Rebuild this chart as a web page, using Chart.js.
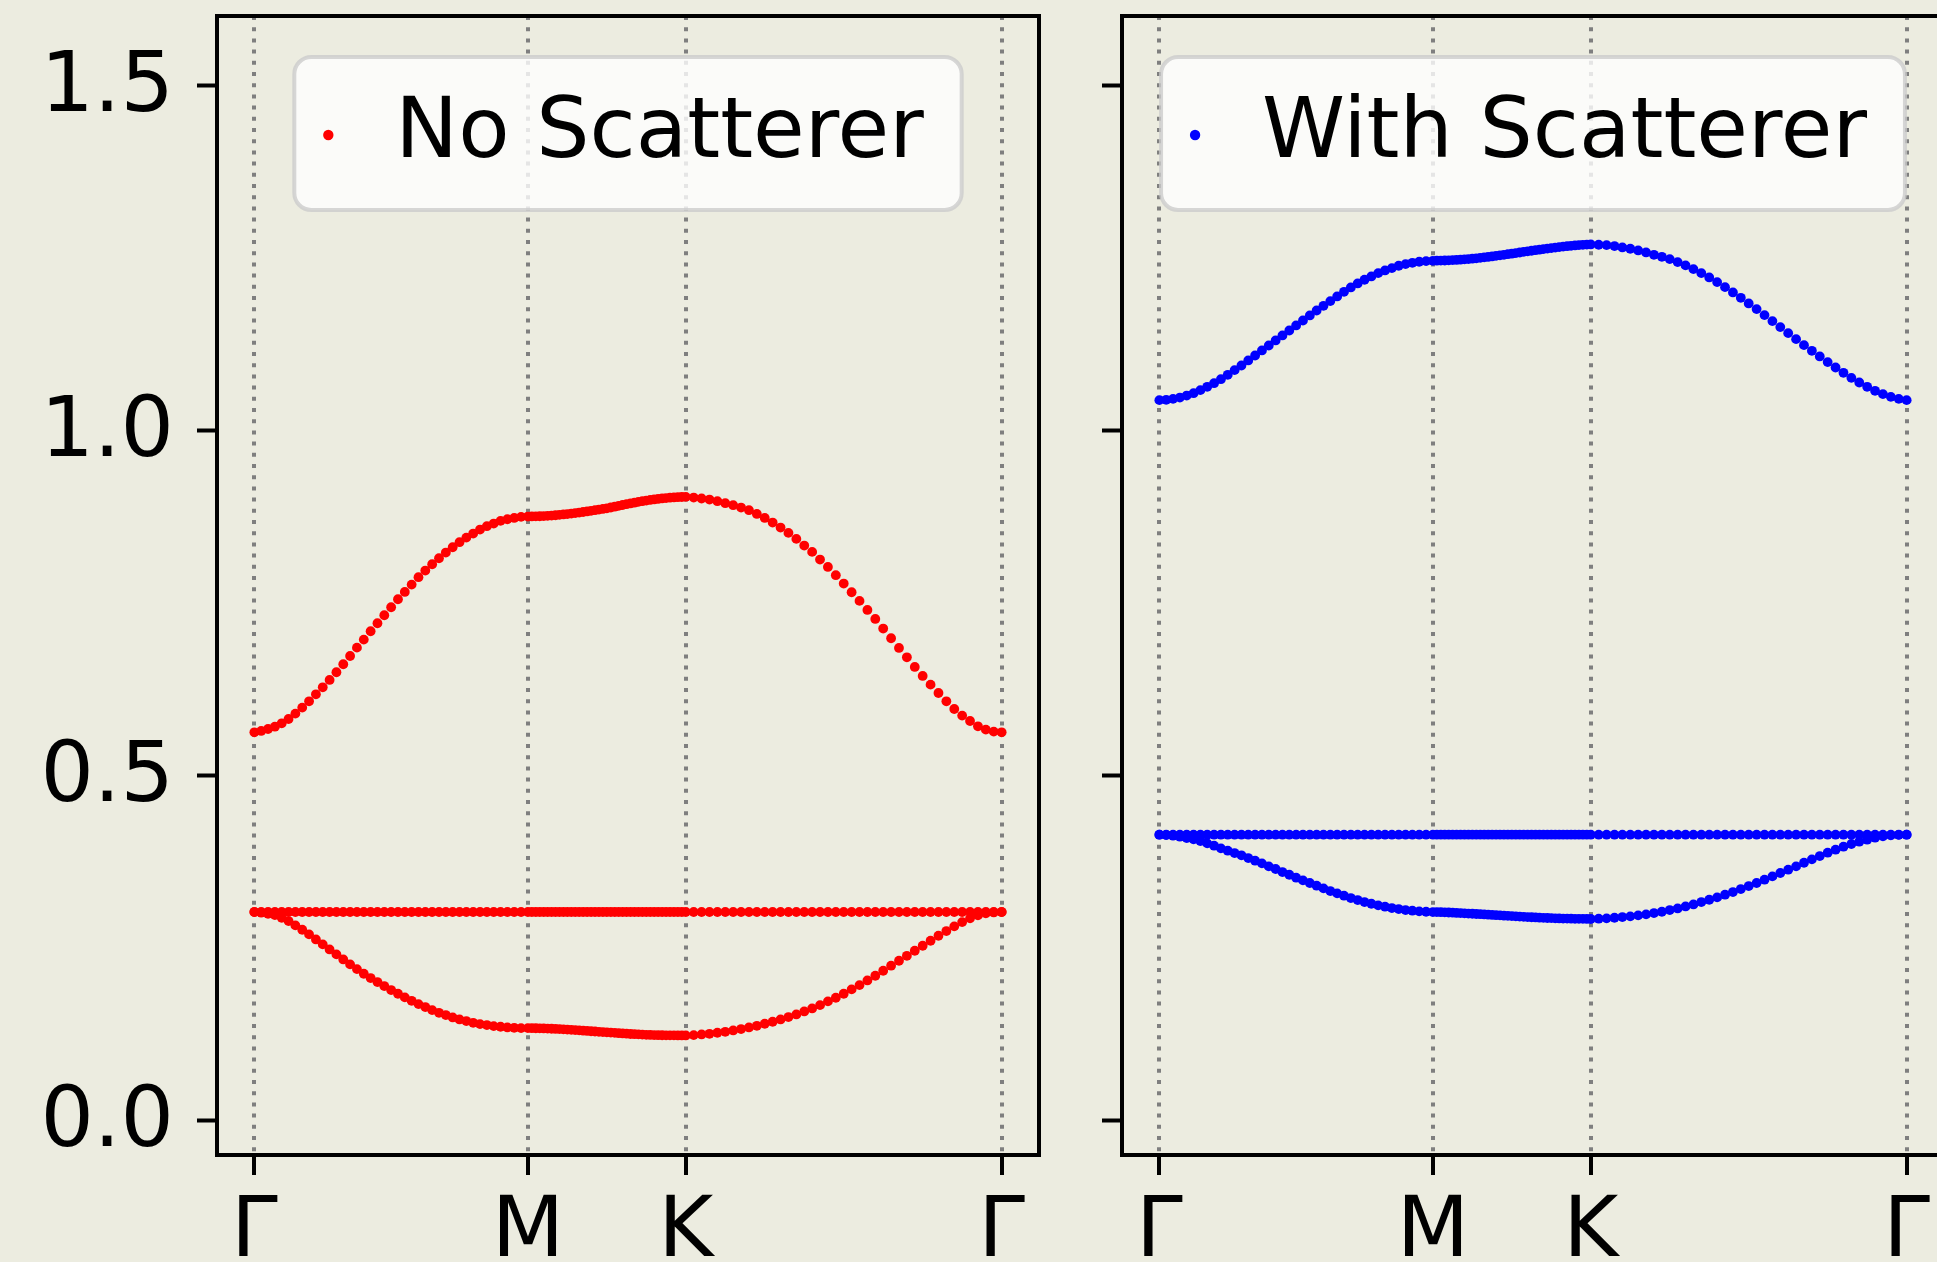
<!DOCTYPE html>
<html>
<head>
<meta charset="utf-8">
<title>Band structure: No Scatterer / With Scatterer</title>
<script src="https://cdn.jsdelivr.net/npm/chart.js@4.4.1/dist/chart.umd.min.js"></script>
<style>
  html, body { margin: 0; padding: 0; background: #ecece0; overflow: hidden; }
  #stage { position: relative; width: 1937px; height: 1262px; overflow: hidden; background: #ecece0; }
  canvas { position: absolute; top: 0; }
  #left { left: 0; }
  #right { left: 1080px; }
</style>
</head>
<body>
<div id="stage">
  <canvas id="left" width="1080" height="1262"></canvas>
  <canvas id="right" width="905" height="1262"></canvas>
</div>
<script>
// High-symmetry points along the path Γ → M → K → Γ (path length, hexagonal lattice units)
const pathNodes = [0, 0.5774, 0.9107, 1.5774];
const nodeLabels = ['Γ', 'M', 'K', 'Γ'];
const samplesPerSegment = 40;

// Frequency axis
const yTicks = [0.0, 0.5, 1.0, 1.5];
const yRange = [-0.05, 1.6];

// ---- No Scatterer (three bands, 121 samples each) ----
const noScatLower = [
  0.3019, 0.3010, 0.2995, 0.2976, 0.2937, 0.2889, 0.2826, 0.2763, 0.2696, 0.2623,
  0.2551, 0.2478, 0.2406, 0.2333, 0.2261, 0.2193, 0.2126, 0.2063, 0.2005, 0.1947,
  0.1889, 0.1836, 0.1783, 0.1734, 0.1686, 0.1643, 0.1599, 0.1560, 0.1527, 0.1493,
  0.1464, 0.1440, 0.1415, 0.1396, 0.1382, 0.1367, 0.1358, 0.1348, 0.1343, 0.1338,
  0.1338,
  0.1337, 0.1336, 0.1335, 0.1333, 0.1331, 0.1329, 0.1326, 0.1323, 0.1320, 0.1317,
  0.1313, 0.1309, 0.1305, 0.1301, 0.1297, 0.1293, 0.1289, 0.1285, 0.1281, 0.1277,
  0.1273, 0.1269, 0.1265, 0.1261, 0.1257, 0.1253, 0.1250, 0.1247, 0.1244, 0.1241,
  0.1239, 0.1237, 0.1236, 0.1235, 0.1234, 0.1233, 0.1233, 0.1232, 0.1232, 0.1232,
  0.1237, 0.1246, 0.1256, 0.1271, 0.1285, 0.1304, 0.1324, 0.1348, 0.1372, 0.1401,
  0.1430, 0.1464, 0.1498, 0.1536, 0.1580, 0.1623, 0.1671, 0.1725, 0.1778, 0.1836,
  0.1899, 0.1961, 0.2029, 0.2097, 0.2169, 0.2242, 0.2314, 0.2386, 0.2459, 0.2531,
  0.2604, 0.2676, 0.2744, 0.2812, 0.2874, 0.2928, 0.2971, 0.3000, 0.3014, 0.3019
];
const noScatFlat = [
  0.302, 0.302, 0.302, 0.302, 0.302, 0.302, 0.302, 0.302, 0.302, 0.302, 0.302,
  0.302, 0.302, 0.302, 0.302, 0.302, 0.302, 0.302, 0.302, 0.302, 0.302, 0.302,
  0.302, 0.302, 0.302, 0.302, 0.302, 0.302, 0.302, 0.302, 0.302, 0.302, 0.302,
  0.302, 0.302, 0.302, 0.302, 0.302, 0.302, 0.302, 0.302, 0.302, 0.302, 0.302,
  0.302, 0.302, 0.302, 0.302, 0.302, 0.302, 0.302, 0.302, 0.302, 0.302, 0.302,
  0.302, 0.302, 0.302, 0.302, 0.302, 0.302, 0.302, 0.302, 0.302, 0.302, 0.302,
  0.302, 0.302, 0.302, 0.302, 0.302, 0.302, 0.302, 0.302, 0.302, 0.302, 0.302,
  0.302, 0.302, 0.302, 0.302, 0.302, 0.302, 0.302, 0.302, 0.302, 0.302, 0.302,
  0.302, 0.302, 0.302, 0.302, 0.302, 0.302, 0.302, 0.302, 0.302, 0.302, 0.302,
  0.302, 0.302, 0.302, 0.302, 0.302, 0.302, 0.302, 0.302, 0.302, 0.302, 0.302,
  0.302, 0.302, 0.302, 0.302, 0.302, 0.302, 0.302, 0.302, 0.302, 0.302, 0.302
];
const noScatUpper = [
  0.5623, 0.5643, 0.5671, 0.5705, 0.5754, 0.5816, 0.5894, 0.5981, 0.6072, 0.6174,
  0.6275, 0.6382, 0.6493, 0.6609, 0.6729, 0.6850, 0.6966, 0.7087, 0.7203, 0.7319,
  0.7435, 0.7551, 0.7657, 0.7763, 0.7870, 0.7966, 0.8058, 0.8145, 0.8227, 0.8304,
  0.8377, 0.8444, 0.8502, 0.8560, 0.8609, 0.8647, 0.8686, 0.8710, 0.8729, 0.8744,
  0.8749,
  0.8750, 0.8751, 0.8753, 0.8756, 0.8759, 0.8763, 0.8768, 0.8773, 0.8779, 0.8785,
  0.8792, 0.8799, 0.8807, 0.8815, 0.8823, 0.8832, 0.8841, 0.8850, 0.8859, 0.8868,
  0.8880, 0.8892, 0.8904, 0.8916, 0.8928, 0.8939, 0.8950, 0.8961, 0.8971, 0.8980,
  0.8989, 0.8997, 0.9004, 0.9011, 0.9017, 0.9022, 0.9026, 0.9029, 0.9032, 0.9034,
  0.9024, 0.9010, 0.8995, 0.8971, 0.8942, 0.8913, 0.8879, 0.8841, 0.8787, 0.8729,
  0.8662, 0.8589, 0.8512, 0.8425, 0.8329, 0.8237, 0.8126, 0.8019, 0.7899, 0.7778,
  0.7652, 0.7527, 0.7396, 0.7266, 0.7126, 0.6986, 0.6845, 0.6710, 0.6570, 0.6440,
  0.6314, 0.6193, 0.6072, 0.5961, 0.5865, 0.5787, 0.5710, 0.5662, 0.5633, 0.5623
];

// ---- With Scatterer (three bands, 121 samples each) ----
const withScatLower = [
  0.4140, 0.4135, 0.4126, 0.4111, 0.4092, 0.4072, 0.4048, 0.4014, 0.3981, 0.3942,
  0.3908, 0.3874, 0.3841, 0.3802, 0.3763, 0.3725, 0.3681, 0.3643, 0.3599, 0.3560,
  0.3517, 0.3478, 0.3440, 0.3401, 0.3362, 0.3324, 0.3290, 0.3256, 0.3222, 0.3193,
  0.3164, 0.3140, 0.3116, 0.3097, 0.3077, 0.3063, 0.3048, 0.3039, 0.3029, 0.3024,
  0.3019,
  0.3018, 0.3017, 0.3015, 0.3013, 0.3010, 0.3007, 0.3004, 0.3001, 0.2998, 0.2995,
  0.2991, 0.2988, 0.2985, 0.2981, 0.2978, 0.2974, 0.2971, 0.2967, 0.2964, 0.2960,
  0.2957, 0.2953, 0.2950, 0.2947, 0.2944, 0.2941, 0.2938, 0.2935, 0.2933, 0.2931,
  0.2929, 0.2927, 0.2925, 0.2924, 0.2923, 0.2922, 0.2921, 0.2921, 0.2920, 0.2919,
  0.2923, 0.2928, 0.2937, 0.2947, 0.2957, 0.2971, 0.2986, 0.3005, 0.3024, 0.3048,
  0.3072, 0.3101, 0.3130, 0.3164, 0.3198, 0.3232, 0.3271, 0.3309, 0.3353, 0.3396,
  0.3440, 0.3488, 0.3536, 0.3585, 0.3633, 0.3681, 0.3734, 0.3783, 0.3831, 0.3879,
  0.3923, 0.3966, 0.4005, 0.4039, 0.4068, 0.4097, 0.4116, 0.4130, 0.4137, 0.4140
];
const withScatFlat = [
  0.414, 0.414, 0.414, 0.414, 0.414, 0.414, 0.414, 0.414, 0.414, 0.414, 0.414,
  0.414, 0.414, 0.414, 0.414, 0.414, 0.414, 0.414, 0.414, 0.414, 0.414, 0.414,
  0.414, 0.414, 0.414, 0.414, 0.414, 0.414, 0.414, 0.414, 0.414, 0.414, 0.414,
  0.414, 0.414, 0.414, 0.414, 0.414, 0.414, 0.414, 0.414, 0.414, 0.414, 0.414,
  0.414, 0.414, 0.414, 0.414, 0.414, 0.414, 0.414, 0.414, 0.414, 0.414, 0.414,
  0.414, 0.414, 0.414, 0.414, 0.414, 0.414, 0.414, 0.414, 0.414, 0.414, 0.414,
  0.414, 0.414, 0.414, 0.414, 0.414, 0.414, 0.414, 0.414, 0.414, 0.414, 0.414,
  0.414, 0.414, 0.414, 0.414, 0.414, 0.414, 0.414, 0.414, 0.414, 0.414, 0.414,
  0.414, 0.414, 0.414, 0.414, 0.414, 0.414, 0.414, 0.414, 0.414, 0.414, 0.414,
  0.414, 0.414, 0.414, 0.414, 0.414, 0.414, 0.414, 0.414, 0.414, 0.414, 0.414,
  0.414, 0.414, 0.414, 0.414, 0.414, 0.414, 0.414, 0.414, 0.414, 0.414, 0.414
];
const withScatUpper = [
  1.0435, 1.0440, 1.0454, 1.0473, 1.0502, 1.0536, 1.0580, 1.0628, 1.0681, 1.0739,
  1.0802, 1.0870, 1.0937, 1.1010, 1.1082, 1.1155, 1.1227, 1.1300, 1.1372, 1.1444,
  1.1517, 1.1589, 1.1662, 1.1734, 1.1802, 1.1870, 1.1937, 1.2005, 1.2068, 1.2126,
  1.2179, 1.2227, 1.2275, 1.2314, 1.2348, 1.2382, 1.2406, 1.2425, 1.2440, 1.2449,
  1.2454,
  1.2455, 1.2456, 1.2458, 1.2460, 1.2463, 1.2466, 1.2470, 1.2474, 1.2479, 1.2484,
  1.2490, 1.2496, 1.2503, 1.2510, 1.2517, 1.2525, 1.2533, 1.2541, 1.2549, 1.2557,
  1.2566, 1.2574, 1.2583, 1.2591, 1.2599, 1.2607, 1.2615, 1.2623, 1.2630, 1.2637,
  1.2645, 1.2652, 1.2659, 1.2665, 1.2671, 1.2676, 1.2681, 1.2685, 1.2688, 1.2691,
  1.2686, 1.2681, 1.2667, 1.2647, 1.2628, 1.2604, 1.2575, 1.2541, 1.2512, 1.2478,
  1.2435, 1.2387, 1.2333, 1.2275, 1.2213, 1.2145, 1.2072, 1.1995, 1.1918, 1.1836,
  1.1754, 1.1667, 1.1580, 1.1493, 1.1406, 1.1319, 1.1232, 1.1150, 1.1068, 1.0986,
  1.0908, 1.0831, 1.0758, 1.0691, 1.0628, 1.0570, 1.0522, 1.0483, 1.0454, 1.0435
];

// ---------------------------------------------------------------------------
const FONT = 'DejaVu Sans';
const FONT_SIZE = 84;
Chart.defaults.font.family = FONT;
Chart.defaults.color = '#000';

// Sample positions along the k-path: evenly spaced inside each segment
const kPath = [];
for (let s = 0; s < pathNodes.length - 1; s++) {
  const a = pathNodes[s], b = pathNodes[s + 1];
  const start = s === 0 ? 0 : 1;
  for (let j = start; j <= samplesPerSegment; j++) kPath.push(a + (b - a) * j / samplesPerSegment);
}
const span = pathNodes[pathNodes.length - 1] - pathNodes[0];
const xRange = [pathNodes[0] - 0.05 * span, pathNodes[pathNodes.length - 1] + 0.05 * span];

const toPoints = band => kPath.map((x, i) => ({ x, y: band[i] }));

// Axes frame and the boxed legend at the top centre of the plot area
const frameLegend = {
  id: 'frameLegend',
  afterDraw(chart, args, opts) {
    const { ctx, chartArea: a } = chart;
    ctx.save();
    ctx.strokeStyle = '#000';
    ctx.lineWidth = 4;
    ctx.strokeRect(a.left, a.top, a.right - a.left, a.bottom - a.top);

    ctx.font = FONT_SIZE + 'px "' + FONT + '"';
    const tw = ctx.measureText(opts.text).width;
    const w = tw + 139, h = 153, r = 17;
    const x = (a.left + a.right) / 2 - w / 2;
    const y = a.top + 41;
    ctx.beginPath();
    ctx.moveTo(x + r, y);
    ctx.arcTo(x + w, y, x + w, y + h, r);
    ctx.arcTo(x + w, y + h, x, y + h, r);
    ctx.arcTo(x, y + h, x, y, r);
    ctx.arcTo(x, y, x + w, y, r);
    ctx.closePath();
    ctx.fillStyle = 'rgba(255,255,255,0.8)';
    ctx.fill();
    ctx.strokeStyle = 'rgba(204,204,204,0.8)';
    ctx.lineWidth = 4;
    ctx.stroke();

    ctx.beginPath();
    ctx.arc(x + 34, y + 78, 5.2, 0, Math.PI * 2);
    ctx.fillStyle = opts.color;
    ctx.fill();

    ctx.fillStyle = '#000';
    ctx.textAlign = 'left';
    ctx.textBaseline = 'alphabetic';
    ctx.fillText(opts.text, x + 101, y + 100);
    ctx.restore();
  }
};

function makePanel(canvasId, bands, color, legendText, yAxisWidth, showYLabels) {
  return new Chart(document.getElementById(canvasId), {
    type: 'scatter',
    data: {
      datasets: bands.map(b => ({
        data: toPoints(b),
        pointRadius: 4.9,
        pointBorderWidth: 0,
        pointBackgroundColor: color,
        backgroundColor: color,
        showLine: false
      }))
    },
    options: {
      responsive: false,
      devicePixelRatio: 1,
      animation: false,
      events: [],
      layout: { padding: { left: 0, right: 41, top: 16, bottom: 0 } },
      plugins: {
        legend: { display: false },
        tooltip: { enabled: false },
        frameLegend: { text: legendText, color: color }
      },
      scales: {
        x: {
          type: 'linear',
          min: xRange[0],
          max: xRange[1],
          z: 1,
          afterBuildTicks: s => { s.ticks = pathNodes.map(v => ({ value: v })); },
          afterFit: s => { s.height = 107; s.paddingLeft = 0; s.paddingRight = 0; },
          grid: {
            drawOnChartArea: true, drawTicks: true,
            color: '#7f7f7f', lineWidth: 4,
            tickLength: 20, tickWidth: 4, tickColor: '#000', tickBorderDash: []
          },
          border: { display: false, dash: [4, 7.2] },
          ticks: {
            autoSkip: false, maxRotation: 0, minRotation: 0, padding: 9,
            font: { size: FONT_SIZE, lineHeight: 1.2 },
            color: '#000',
            callback: (v, i) => nodeLabels[i]
          }
        },
        y: {
          type: 'linear',
          min: yRange[0],
          max: yRange[1],
          afterBuildTicks: s => { s.ticks = yTicks.map(v => ({ value: v })); },
          afterFit: s => { s.width = yAxisWidth; s.paddingTop = 0; s.paddingBottom = 0; },
          grid: {
            drawOnChartArea: false, drawTicks: true,
            tickLength: 20, tickWidth: 4, tickColor: '#000', color: '#000'
          },
          border: { display: false },
          ticks: {
            autoSkip: false, padding: 23, labelOffset: 4,
            font: { size: FONT_SIZE, lineHeight: 1.2 },
            color: '#000',
            callback: v => showYLabels ? Number(v).toFixed(1) : ''
          }
        }
      }
    },
    plugins: [frameLegend]
  });
}

makePanel('left', [noScatFlat, noScatLower, noScatUpper], '#ff0000', 'No Scatterer', 217, true);
makePanel('right', [withScatFlat, withScatLower, withScatUpper], '#0000ff', 'With Scatterer', 42, false);
</script>
</body>
</html>
